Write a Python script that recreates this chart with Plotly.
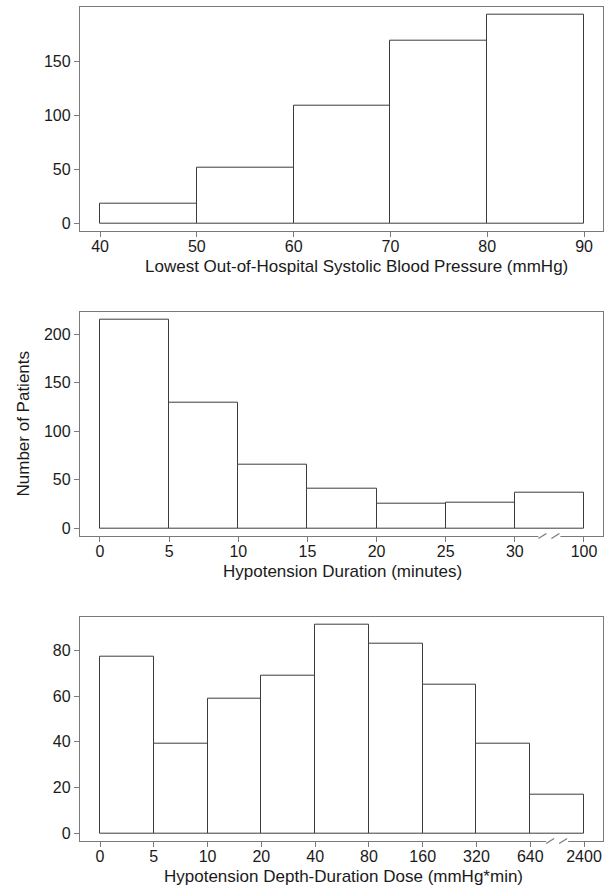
import plotly.graph_objects as go

# ---------------- data ----------------
bp_edges = [40, 50, 60, 70, 80, 90]
bp_counts = [18, 51, 109, 169, 193]

dur_labels = ["0", "5", "10", "15", "20", "25", "30", "100"]
dur_counts = [215, 129, 66, 41, 25, 26, 37]

dose_labels = ["0", "5", "10", "20", "40", "80", "160", "320", "640", "2400"]
dose_counts = [77, 39, 59, 69, 91, 83, 65, 39, 17]

bp_yticks = [0, 50, 100, 150]
dur_yticks = [0, 50, 100, 150, 200]
dose_yticks = [0, 20, 40, 60, 80]

x_titles = ["Lowest Out-of-Hospital Systolic Blood Pressure (mmHg)",
            "Hypotension Duration (minutes)",
            "Hypotension Depth-Duration Dose (mmHg*min)"]
y_title = "Number of Patients"

# ---------------- style ----------------
W, H = 609, 886
FONT = "Liberation Sans, Arial, sans-serif"
FS_TICK = 16
FS_TITLE = 17
TXT = "#1a1a1a"
FRAME = "#7a7a7a"
BARLINE = "#3c3c3c"

x_dom = [80 / W, 603 / W]
y_doms = [[(H - 231) / H, (H - 6.7) / H],
          [(H - 536) / H, (H - 311.7) / H],
          [(H - 841) / H, (H - 616.7) / H]]

x_ranges = [[37.93, 91.96], [-0.289, 7.275], [-0.372, 9.353]]
y_ranges = [[-7.1, 200.2], [-7.9, 223.3], [-3.37, 94.7]]

fig = go.Figure()

bar_style = dict(color="white", line=dict(color=BARLINE, width=1))
# panel 1
bp_centers = [(a + b) / 2 for a, b in zip(bp_edges[:-1], bp_edges[1:])]
bp_widths = [b - a for a, b in zip(bp_edges[:-1], bp_edges[1:])]
fig.add_trace(go.Bar(x=bp_centers, y=bp_counts, width=bp_widths, marker=bar_style,
                     xaxis="x", yaxis="y", showlegend=False, hoverinfo="y"))
# panel 2
fig.add_trace(go.Bar(x=[i + 0.5 for i in range(len(dur_counts))], y=dur_counts,
                     width=[1] * len(dur_counts), marker=bar_style,
                     xaxis="x2", yaxis="y2", showlegend=False, hoverinfo="y"))
# panel 3
fig.add_trace(go.Bar(x=[i + 0.5 for i in range(len(dose_counts))], y=dose_counts,
                     width=[1] * len(dose_counts), marker=bar_style,
                     xaxis="x3", yaxis="y3", showlegend=False, hoverinfo="y"))

axis_common = dict(showline=True, linecolor=FRAME, linewidth=1.3, mirror=True,
                   ticks="outside", ticklen=5, tickcolor=FRAME, tickwidth=1,
                   showgrid=False, zeroline=False,
                   tickfont=dict(family=FONT, size=FS_TICK, color=TXT))

x_tick_sets = [
    dict(tickvals=bp_edges, ticktext=[str(v) for v in bp_edges]),
    dict(tickvals=list(range(len(dur_labels))), ticktext=dur_labels),
    dict(tickvals=list(range(len(dose_labels))), ticktext=dose_labels),
]
y_tick_sets = [bp_yticks, dur_yticks, dose_yticks]

layout = dict(width=W, height=H, margin=dict(l=0, r=0, t=0, b=0),
              paper_bgcolor="white", plot_bgcolor="white", bargap=0,
              font=dict(family=FONT, color=TXT))
for i in range(3):
    sx = "" if i == 0 else str(i + 1)
    layout["xaxis" + sx] = dict(axis_common, domain=x_dom, range=x_ranges[i],
                                anchor="y" + sx, tickmode="array",
                                ticklabelstandoff=-4, **x_tick_sets[i])
    layout["yaxis" + sx] = dict(axis_common, domain=y_doms[i], range=y_ranges[i],
                                anchor="x" + sx, tickmode="array",
                                tickvals=y_tick_sets[i],
                                ticktext=[str(v) for v in y_tick_sets[i]])
fig.update_layout(**layout)

# axis titles
title_x = [357, 342, 343]
title_y = [266, 571, 876]
annots = []
for t, xc, yc in zip(x_titles, title_x, title_y):
    annots.append(dict(text=t, x=xc / W, y=(H - yc) / H, xref="paper", yref="paper",
                       xanchor="center", yanchor="middle", showarrow=False,
                       font=dict(family=FONT, size=FS_TITLE, color=TXT)))
annots.append(dict(text=y_title, x=22.5 / W, y=(H - 424) / H, xref="paper", yref="paper",
                   xanchor="center", yanchor="middle", textangle=-90, showarrow=False,
                   font=dict(family=FONT, size=FS_TITLE, color=TXT)))
fig.update_layout(annotations=annots)

# axis break marks "//" between the last two ticks of panels 2 and 3
frame_w = x_dom[1] * W - x_dom[0] * W
frame_h_px = [y_doms[i][1] * H - y_doms[i][0] * H for i in range(3)]
shapes = []
for pi, n in ((1, len(dur_labels)), (2, len(dose_labels))):
    sx = str(pi + 1)
    ppu = frame_w / (x_ranges[pi][1] - x_ranges[pi][0])
    mid = (n - 2) + 0.5
    d = lambda px: px / ppu
    dy = 2.6 / frame_h_px[pi]
    shapes.append(dict(type="line", xref="x" + sx, yref="y" + sx + " domain",
                       x0=mid - d(11), x1=mid + d(11), y0=0, y1=0,
                       line=dict(color="white", width=3)))
    for a, b in ((-11, -3), (2, 10)):
        shapes.append(dict(type="line", xref="x" + sx, yref="y" + sx + " domain",
                           x0=mid + d(a), x1=mid + d(b), y0=-dy, y1=dy,
                           line=dict(color=FRAME, width=1.2)))
fig.update_layout(shapes=shapes)

fig.write_html("out.html", config={"displayModeBar": False},
               post_script="document.body.style.margin='0';document.body.style.padding='0';")
